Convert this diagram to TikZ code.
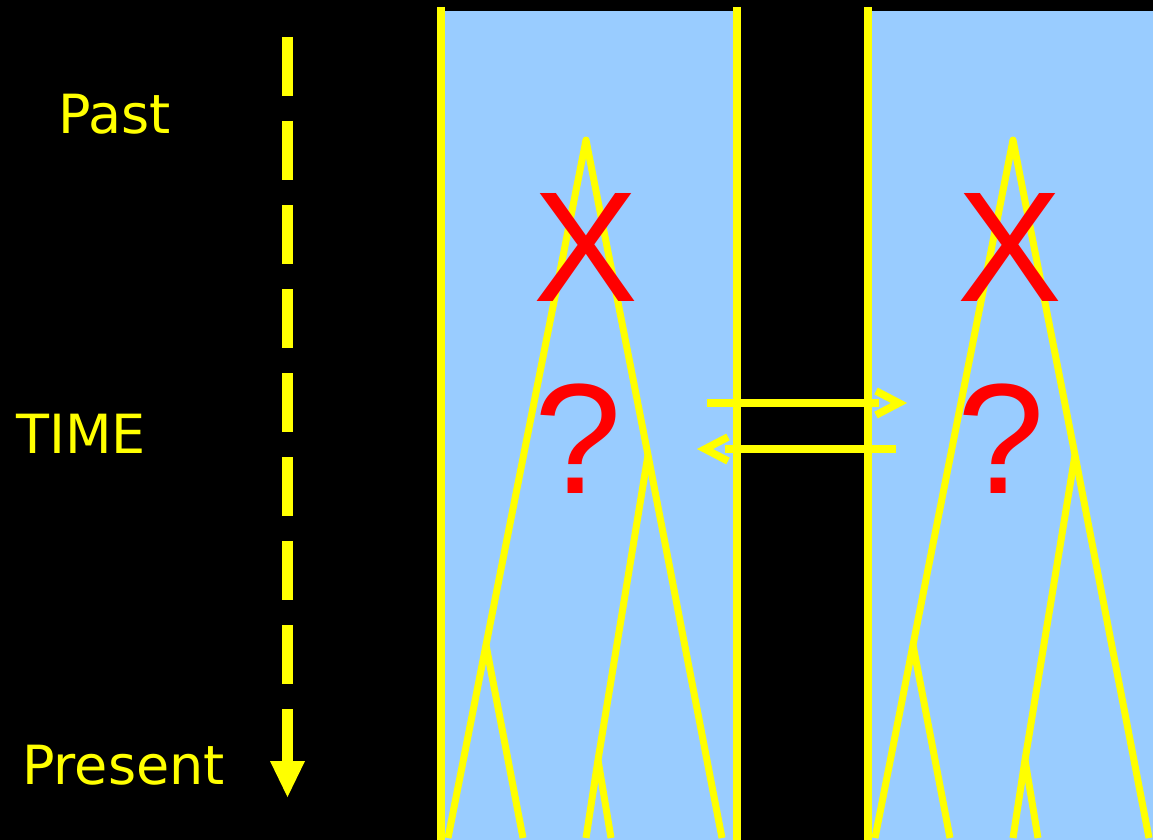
\documentclass[tikz,border=0pt]{standalone}
\usepackage{fontspec}
\setmainfont{DejaVu Sans}
\newfontfamily\redfont{Liberation Sans}
\definecolor{sky}{HTML}{99CCFF}
\definecolor{ylw}{HTML}{FFFF00}
\definecolor{rd}{HTML}{FF0000}
\begin{document}
\begin{tikzpicture}[x=1pt,y=-1pt,
  wall/.style={draw=ylw, line width=8pt},
  branch/.style={draw=ylw, line width=7pt, line join=round},
  migr/.style={draw=ylw, line width=7.5pt},
  chev/.style={draw=ylw, line width=7.5pt, line join=miter},
  lbl/.style={text=ylw, font=\fontsize{54}{62}\selectfont, inner sep=0pt, anchor=base west},
  big/.style={text=rd, font=\redfont\fontsize{157}{165}\selectfont, inner sep=0pt, anchor=base}]
\fill[black] (0,0) rectangle (1153,840);
\useasboundingbox (0,0) rectangle (1153,840);
% populations
\fill[sky] (441,11) rectangle (737,840);
\fill[sky] (868,11) rectangle (1153,840);
\draw[wall] (441,7) -- (441,840);
\draw[wall] (737,7) -- (737,840);
\draw[wall] (868,7) -- (868,840);
% trees
\foreach \dx/\nm in {0/a,427/b} {
  \begin{scope}[xshift=\dx pt]
    \coordinate (\nm A) at (586,140);
    \coordinate (\nm L) at (486,645);
    \coordinate (\nm R) at (648,455);
    \coordinate (\nm S) at (598,760);
    \coordinate (\nm t1) at (448,838);
    \coordinate (\nm t2) at (523,838);
    \coordinate (\nm t3) at (586,838);
    \coordinate (\nm t4) at (611,838);
    \coordinate (\nm t5) at (722,838);
    \draw[branch] (\nm t1) -- (\nm L) -- (\nm A) -- (\nm R) -- (\nm t5);
    \draw[branch] (\nm L) -- (\nm t2);
    \draw[branch] (\nm R) -- (\nm S) -- (\nm t3);
    \draw[branch] (\nm S) -- (\nm t4);
  \end{scope}
}
% labels in populations
\node[big] (xa) at (586,301) {X};
\node[big] (qa) at (578.5,493) {?};
\node[big] (xb) at (1010,301) {X};
\node[big] (qb) at (1001.5,493) {?};
% migration arrows
\coordinate (m1s) at (707,403);
\coordinate (m1e) at (879,403);
\coordinate (m2s) at (896,449);
\coordinate (m2e) at (725,449);
\draw[migr] (m1s) -- (m1e);
\draw[chev] (876,391) -- (899,403) -- (876,415);
\draw[migr] (m2s) -- (m2e);
\draw[chev] (728,437) -- (705,449) -- (728,461);
% time axis
\coordinate (ttop) at (287.5,37);
\coordinate (tbot) at (287.5,761);
\draw[draw=ylw, line width=11.5pt, dash pattern=on 59pt off 25pt] (ttop) -- (tbot);
\fill[ylw] (270,761) -- (305,761) -- (287.5,797) -- cycle;
\node[lbl] (past) at (58,134) {Past};
\node[lbl] (time) at (16,453) {TIME};
\node[lbl] (present) at (22,784) {Present};
\end{tikzpicture}
\end{document}
